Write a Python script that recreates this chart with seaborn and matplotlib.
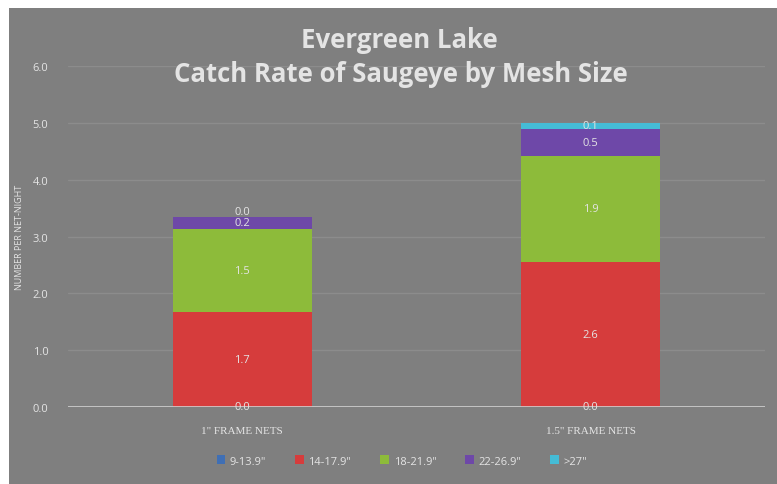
import matplotlib.pyplot as plt
import matplotlib.patches as mpatches
import pandas as pd
import seaborn as sns

nets = ['1" FRAME NETS', '1.5" FRAME NETS']
size_classes = ['9-13.9"', '14-17.9"', '18-21.9"', '22-26.9"', '>27"']
catch_1in = [0.0, 1.68, 1.46, 0.2, 0.0]
catch_15in = [0.0, 2.56, 1.86, 0.48, 0.1]
yticks = [0.0, 1.0, 2.0, 3.0, 4.0, 5.0, 6.0]

colors = ["#3f6fb5", "#d63c3c", "#8dbb3a", "#6e48a8", "#45bcd6"]
BG = "#7f7f7f"
TXT = "#e4e4e4"

df = pd.DataFrame({"net": nets * len(size_classes),
                   "size": [s for s in size_classes for _ in nets],
                   "catch": [v for pair in zip(catch_1in, catch_15in) for v in pair]})
df["size"] = pd.Categorical(df["size"], size_classes, ordered=True)
df = df.sort_values(["net", "size"])
df["top"] = df.groupby("net")["catch"].cumsum()
df["bottom"] = df["top"] - df["catch"]

sns.set_style("white")
plt.rcParams["font.family"] = ["Open Sans", "DejaVu Sans"]

fig = plt.figure(figsize=(7.77, 4.85), dpi=100, facecolor="white")
fig.patches.append(mpatches.Rectangle((9 / 777, 0), 1, 1 - 9 / 485, transform=fig.transFigure,
                                      facecolor=BG, edgecolor="none", zorder=-10))
ax = fig.add_axes([68 / 777, (485 - 408) / 485, (765 - 68) / 777, (408 - 67) / 485])
ax.set_facecolor(BG)

# stack by overdrawing cumulative totals, topmost class first
for size, color in reversed(list(zip(size_classes, colors))):
    sub = df[df["size"] == size]
    sns.barplot(data=sub, x="net", y="top", order=nets, color=color, width=0.4,
                saturation=1, ax=ax, edgecolor="none", zorder=3)

for _, row in df.iterrows():
    x = nets.index(row["net"])
    y = row["bottom"] + row["catch"] / 2
    if row["catch"] == 0 and row["bottom"] > 0:
        y += 0.1  # zero-height top segment: lift its label off the one below
    ax.text(x, y, f'{row["catch"]:.1f}', ha="center", va="center", color=TXT,
            fontsize=8, zorder=5)

ax.set_xlim(-0.5, 1.5)
ax.set_ylim(0, 6.0)
ax.set_yticks(yticks)
ax.set_yticklabels([f"{t:.1f}" for t in yticks], color=TXT, fontsize=8)
ax.set_xticks(range(len(nets)))
ax.set_xticklabels(nets, color=TXT, fontsize=8, family="Liberation Serif")
ax.tick_params(axis="both", length=0, pad=14)
ax.tick_params(axis="x", pad=14)
ax.yaxis.grid(True, color="#8c8c8c", linewidth=1, zorder=0)
ax.set_axisbelow(True)
for s in ax.spines.values():
    s.set_visible(False)
ax.axhline(0, color="#d0d0d0", linewidth=1.2, zorder=4)
ax.set_xlabel("")
ax.set_ylabel("NUMBER PER NET-NIGHT", color=TXT, fontsize=6.5, labelpad=6)

fig.text(399 / 777, 1 - 41 / 485, "Evergreen Lake", ha="center", va="center",
         color=TXT, fontsize=18.5, fontweight="bold")
fig.text(401 / 777, 1 - 74 / 485, "Catch Rate of Saugeye by Mesh Size", ha="center",
         va="center", color=TXT, fontsize=18.5, fontweight="bold")

handles = [mpatches.Patch(facecolor=c, edgecolor="none", label=s)
           for s, c in zip(size_classes, colors)]
leg = fig.legend(handles=handles, loc="center", bbox_to_anchor=(402 / 777, 1 - 462 / 485),
                 ncol=5, frameon=False, fontsize=8, handlelength=0.8, handleheight=0.8,
                 handletextpad=0.4, columnspacing=2.6)
for t in leg.get_texts():
    t.set_color(TXT)

fig.savefig("out.png", dpi=100, facecolor="white")
